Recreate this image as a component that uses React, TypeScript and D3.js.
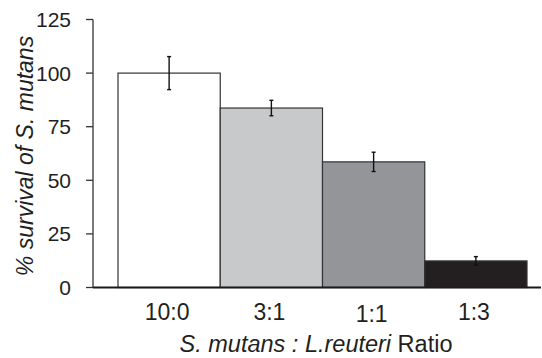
import { useEffect, useRef } from "react";
import * as d3 from "d3";

const ratios = ["10:0", "3:1", "1:1", "1:3"];
const survival = [100, 83.7, 58.6, 12.4];
const errors = [7.7, 3.6, 4.5, 2.0];
const barColors = ["#ffffff", "#c8c9cb", "#939598", "#231f20"];
const yTicks = [0, 25, 50, 75, 100, 125];

export default function App() {
  const chartRef = useRef<HTMLDivElement>(null);

  useEffect(() => {
    if (!chartRef.current) return;

    const width = 542;
    const height = 358;
    const font = "'Liberation Sans', Arial, sans-serif";

    d3.select(chartRef.current).selectAll("*").remove();

    const svg = d3
      .select(chartRef.current)
      .append("svg")
      .attr("width", width)
      .attr("height", height)
      .style("display", "block");

    const axisX = 93;
    const yScale = d3.scaleLinear().domain([0, 125]).range([287.5, 19.5]);
    const xScale = d3.scaleBand().domain(ratios).range([118, 527]).padding(0);

    const data = ratios.map((r, i) => ({
      ratio: r,
      value: survival[i],
      err: errors[i],
      color: barColors[i],
    }));

    // bars
    svg
      .selectAll("rect.bar")
      .data(data)
      .enter()
      .append("rect")
      .attr("class", "bar")
      .attr("x", (d) => xScale(d.ratio) || 0)
      .attr("y", (d) => yScale(d.value))
      .attr("width", xScale.bandwidth())
      .attr("height", (d) => yScale(0) - yScale(d.value))
      .attr("fill", (d) => d.color)
      .attr("stroke", "#333333")
      .attr("stroke-width", 1.2);

    // error bars
    const eb = svg.append("g").attr("stroke", "#111111").attr("stroke-width", 1.4);
    data.forEach((d) => {
      const cx = (xScale(d.ratio) || 0) + xScale.bandwidth() / 2;
      const top = yScale(d.value + d.err);
      const bot = yScale(d.value - d.err);
      eb.append("line").attr("x1", cx).attr("x2", cx).attr("y1", top).attr("y2", bot);
      eb.append("line").attr("x1", cx - 2).attr("x2", cx + 2).attr("y1", top).attr("y2", top);
      eb.append("line").attr("x1", cx - 2).attr("x2", cx + 2).attr("y1", bot).attr("y2", bot);
    });

    // y axis
    svg
      .append("line")
      .attr("x1", axisX)
      .attr("x2", axisX)
      .attr("y1", yScale(125))
      .attr("y2", yScale(0))
      .attr("stroke", "#333333")
      .attr("stroke-width", 1.3);

    yTicks.forEach((t) => {
      svg
        .append("line")
        .attr("x1", axisX - 7)
        .attr("x2", axisX)
        .attr("y1", yScale(t))
        .attr("y2", yScale(t))
        .attr("stroke", "#333333")
        .attr("stroke-width", 1.3);
      svg
        .append("text")
        .attr("x", 71)
        .attr("y", yScale(t))
        .attr("dy", "0.36em")
        .attr("text-anchor", "end")
        .attr("font-family", font)
        .attr("font-size", "21px")
        .attr("fill", "#231f20")
        .text(String(t));
    });

    // x axis baseline
    svg
      .append("line")
      .attr("x1", axisX)
      .attr("x2", 541)
      .attr("y1", yScale(0))
      .attr("y2", yScale(0))
      .attr("stroke", "#1a1a1a")
      .attr("stroke-width", 2);

    svg
      .selectAll("text.xlab")
      .data(ratios)
      .enter()
      .append("text")
      .attr("class", "xlab")
      .attr("x", (d) => (xScale(d) || 0) + xScale.bandwidth() / 2 - 2)
      .attr("y", (d, i) => (i === 2 ? 322 : 320))
      .attr("text-anchor", "middle")
      .attr("font-family", font)
      .attr("font-size", "23px")
      .attr("fill", "#231f20")
      .text((d) => d);

    // x title
    const xt = svg
      .append("text")
      .attr("x", 316)
      .attr("y", 352)
      .attr("text-anchor", "middle")
      .attr("font-family", font)
      .attr("font-size", "23.5px")
      .attr("fill", "#231f20");
    xt.append("tspan").attr("font-style", "italic").text("S. mutans : L.reuteri");
    xt.append("tspan").text(" Ratio");

    // y title
    const yt = svg
      .append("text")
      .attr("transform", `translate(33,156) rotate(-90)`)
      .attr("text-anchor", "middle")
      .attr("font-family", font)
      .attr("font-size", "23px")
      .attr("font-style", "italic")
      .attr("fill", "#231f20");
    yt.text("% survival of S. mutans");
  }, []);

  return <div ref={chartRef} style={{ position: "absolute", left: 0, top: 0 }} />;
}
